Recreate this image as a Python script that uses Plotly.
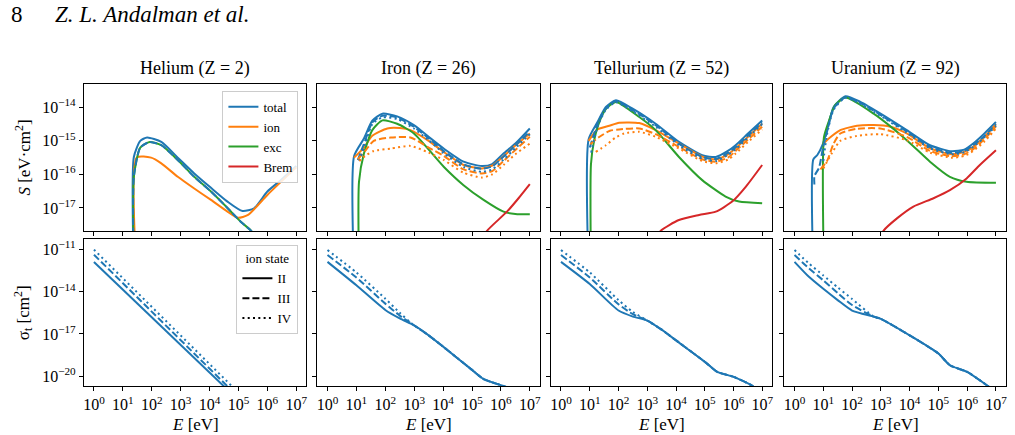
import plotly.graph_objects as go

BLUE = '#1f77b4'
ORANGE = '#ff7f0e'
GREEN = '#2ca02c'
RED = '#d62728'
FONT = 'Liberation Serif'

TITLES = ['Helium (Z = 2)', 'Iron (Z = 26)', 'Tellurium (Z = 52)', 'Uranium (Z = 92)']
X_TICKS = [1, 10, 100, 1e3, 1e4, 1e5, 1e6, 1e7]
X_TICK_TEXT = ['10<sup>0</sup>', '10<sup>1</sup>', '10<sup>2</sup>', '10<sup>3</sup>',
               '10<sup>4</sup>', '10<sup>5</sup>', '10<sup>6</sup>', '10<sup>7</sup>']
S_TICKS = [1e-17, 1e-16, 1e-15, 1e-14]
S_TICK_TEXT = ['10<sup>\u221217</sup>', '10<sup>\u221216</sup>', '10<sup>\u221215</sup>', '10<sup>\u221214</sup>']
SIG_TICKS = [1e-20, 1e-17, 1e-14, 1e-11]
SIG_TICK_TEXT = ['10<sup>\u221220</sup>', '10<sup>\u221217</sup>', '10<sup>\u221214</sup>', '10<sup>\u221211</sup>']

# ---------------- Helium: stopping S [eV cm^2] ----------------
HE_E_TOT = [24, 24, 40, 69, 214, 794, 2950, 1.12e4, 4.17e4, 1.38e5, 3.47e5, 1e6, 2.95e6, 1e7]
HE_S_TOT = [1e-19, 3.31e-16, 1.0e-15, 1.26e-15, 9.3e-16, 3.16e-16, 1.07e-16, 3.98e-17, 1.55e-17,
            8.1e-18, 9.8e-18, 3.09e-17, 6.8e-17, 1.78e-16]
HE_E_ION = [30, 30, 95, 214, 794, 2950, 1.12e4, 4.17e4, 9.5e4, 2.14e5, 1e6, 1e7]
HE_S_ION = [1e-19, 3.16e-16, 3.16e-16, 2.14e-16, 8.5e-17, 3.8e-17, 1.74e-17, 7.8e-18, 5.1e-18,
            6.2e-18, 2.45e-17, 1.62e-16]
HE_E_EXC = [24, 24, 40, 85, 214, 794, 2950, 1.12e4, 4.17e4, 1.2e5, 2.75e5, 3.98e5]
HE_S_EXC = [1e-19, 8.5e-17, 6.3e-16, 9.3e-16, 7.4e-16, 2.69e-16, 8.5e-17, 3.09e-17, 1.0e-17,
            3.89e-18, 2.09e-18, 1.26e-18]
HE_E_TOT3 = [24, 24, 40, 85, 214, 794, 2950, 1.12e4, 4.17e4, 1.2e5, 2.75e5, 3.98e5]
HE_S_TOT3 = [1e-19, 8.5e-17, 6.3e-16, 9.3e-16, 7.4e-16, 2.69e-16, 8.5e-17, 3.09e-17, 1.0e-17,
             3.89e-18, 2.09e-18, 1.26e-18]

# ---------------- Iron ----------------
FE_E_TOT = [8.3, 8.3, 18.2, 35.5, 79.4, 257, 977, 3160, 1.05e4, 5.1e4, 2.19e5, 5e5, 1.23e6, 3.16e6, 1e7]
FE_S_TOT = [1e-19, 3.47e-16, 1.17e-15, 3.98e-15, 6.46e-15, 5.37e-15, 2.95e-15, 1.32e-15, 5.9e-16,
            2.4e-16, 1.78e-16, 2.04e-16, 4.17e-16, 8.3e-16, 2.34e-15]
FE_E_TOT3 = [11.2, 20, 35.5, 79.4, 257, 977, 3160, 1.05e4, 5.1e4, 2.19e5, 5e5, 1.23e6, 3.16e6, 1e7]
FE_S_TOT3 = [2.69e-16, 1.0e-15, 3.55e-15, 5.62e-15, 5.01e-15, 2.63e-15, 1.2e-15, 5.01e-16,
             2.0e-16, 1.48e-16, 1.74e-16, 3.39e-16, 7.24e-16, 1.91e-15]
FE_E_TOT4 = [12.6, 20, 35.5, 79.4, 257, 977, 3160, 1.05e4, 5.1e4, 2.19e5, 5e5, 1.23e6, 3.16e6, 1e7]
FE_S_TOT4 = [2.51e-16, 7.94e-16, 3.16e-15, 5.01e-15, 4.47e-15, 2.34e-15, 1.05e-15, 4.27e-16,
             1.66e-16, 1.2e-16, 1.41e-16, 2.75e-16, 6.03e-16, 1.58e-15]
FE_E_ION = [8.3, 18.2, 35.5, 117, 316, 741, 3160, 1.05e4, 5.1e4, 2.19e5, 5e5, 1.23e6, 3.16e6, 1e7]
FE_S_ION = [3.16e-16, 6.31e-16, 1.41e-15, 2.34e-15, 2.4e-15, 2.09e-15, 1.0e-15, 4.68e-16,
            1.91e-16, 1.51e-16, 1.82e-16, 3.47e-16, 7.24e-16, 1.66e-15]
FE_E_ION3 = [11.2, 20, 39.8, 155, 741, 3160, 1.05e4, 5.1e4, 2.19e5, 5e5, 1.23e6, 3.16e6, 1e7]
FE_S_ION3 = [2.82e-16, 5.01e-16, 1.0e-15, 1.26e-15, 1.26e-15, 6.31e-16, 3.55e-16, 1.41e-16,
             1.07e-16, 1.26e-16, 2.51e-16, 5.37e-16, 1.32e-15]
FE_E_ION4 = [12.6, 20, 39.8, 155, 741, 3160, 1.05e4, 5.1e4, 2.19e5, 5e5, 1.23e6, 3.16e6, 1e7]
FE_S_ION4 = [2.51e-16, 3.55e-16, 5.01e-16, 5.89e-16, 7.08e-16, 4.47e-16, 2.69e-16, 1.12e-16,
             8.1e-17, 1.0e-16, 1.91e-16, 3.98e-16, 8.3e-16]
FE_E_EXC = [12.3, 12.3, 18.2, 35.5, 79.4, 257, 977, 1.05e4, 5.1e4, 2.51e5, 1.23e6, 3.16e6, 1e7]
FE_S_EXC = [1e-19, 6.03e-17, 4.17e-16, 2.09e-15, 4.07e-15, 3.24e-15, 1.66e-15, 1.7e-16, 4.79e-17,
            1.74e-17, 7.76e-18, 6.61e-18, 6.46e-18]
FE_E_BREM = [2.0e5, 3.31e5, 1.62e6, 4.07e6, 1e7]
FE_S_BREM = [1e-18, 2.09e-18, 7.76e-18, 1.95e-17, 5.13e-17]

# ---------------- Tellurium ----------------
TE_E_TOT = [9.1, 9.1, 18.6, 36.3, 81.3, 309, 1950, 1.26e4, 8.1e4, 2.4e5, 6.31e5, 1.17e6, 3.16e6, 9.8e6]
TE_S_TOT = [1e-19, 1.1e-15, 3.63e-15, 1.02e-14, 1.62e-14, 9.1e-15, 3.24e-15, 9.3e-16, 3.72e-16,
            3.31e-16, 5.01e-16, 7.41e-16, 1.66e-15, 4.07e-15]
TE_E_TOT3 = [10, 18.6, 36.3, 81.3, 309, 1950, 1.26e4, 8.1e4, 2.4e5, 6.31e5, 1.17e6, 3.16e6, 9.8e6]
TE_S_TOT3 = [6.31e-16, 3.16e-15, 9.3e-15, 1.51e-14, 8.3e-15, 2.95e-15, 8.3e-16, 3.31e-16,
             2.88e-16, 4.37e-16, 6.46e-16, 1.45e-15, 3.55e-15]
TE_E_TOT4 = [11.2, 18.6, 36.3, 81.3, 309, 1950, 1.26e4, 8.1e4, 2.4e5, 6.31e5, 1.17e6, 3.16e6, 9.8e6]
TE_S_TOT4 = [4.47e-16, 2.63e-15, 8.5e-15, 1.41e-14, 7.59e-15, 2.63e-15, 7.41e-16, 2.95e-16,
             2.51e-16, 3.8e-16, 5.62e-16, 1.26e-15, 3.16e-15]
TE_E_ION = [9.1, 18.6, 47.9, 105, 525, 1950, 1.26e4, 8.1e4, 2.4e5, 6.31e5, 1.17e6, 3.16e6, 9.8e6]
TE_S_ION = [1.0e-15, 2.19e-15, 2.82e-15, 3.47e-15, 3.39e-15, 2.09e-15, 8.3e-16, 3.39e-16,
            2.82e-16, 3.98e-16, 6.03e-16, 1.32e-15, 3.24e-15]
TE_E_ION3 = [10.5, 20, 50.1, 105, 525, 1950, 1.26e4, 8.1e4, 2.4e5, 6.31e5, 1.17e6, 3.16e6, 9.8e6]
TE_S_ION3 = [7.94e-16, 1.26e-15, 2.0e-15, 2.19e-15, 2.34e-15, 1.58e-15, 6.61e-16, 2.82e-16,
             2.4e-16, 3.16e-16, 5.01e-16, 1.1e-15, 2.63e-15]
TE_E_ION4 = [16.2, 36.3, 79.4, 158, 525, 1950, 1.26e4, 8.1e4, 2.4e5, 6.31e5, 1.17e6, 3.16e6, 9.8e6]
TE_S_ION4 = [4.68e-16, 7.41e-16, 1.26e-15, 1.66e-15, 1.86e-15, 1.32e-15, 5.89e-16, 2.51e-16,
             2.14e-16, 2.75e-16, 4.17e-16, 9.3e-16, 2.19e-15]
TE_E_EXC = [11, 11, 14.1, 22.4, 36.3, 81.3, 525, 1950, 1.26e4, 8.1e4, 5.25e5, 1.55e6, 9.8e6]
TE_S_EXC = [1e-19, 2.0e-16, 1.0e-15, 3.98e-15, 8.9e-15, 1.45e-14, 5.13e-15, 2.09e-15, 3.31e-16,
            6.76e-17, 2.19e-17, 1.55e-17, 1.38e-17]
TE_E_BREM = [2000, 2950, 1.26e4, 6.31e4, 2.4e5, 8.9e5, 2.63e6, 9.8e6]
TE_S_BREM = [1e-18, 2.09e-18, 4.37e-18, 6.17e-18, 7.76e-18, 1.55e-17, 4.27e-17, 1.91e-16]

# ---------------- Uranium ----------------
U_E_TOT = [4.5, 4.5, 6.2, 9.8, 13.5, 22.9, 58.9, 195, 1230, 7940, 5.1e4, 2.88e5, 7.94e5, 1.62e6, 3.98e6, 1e7]
U_S_TOT = [1e-19, 2.82e-16, 3.8e-16, 8.3e-16, 2.09e-15, 1.02e-14, 2.14e-14, 1.45e-14, 5.75e-15,
           2.09e-15, 7.41e-16, 4.9e-16, 5.5e-16, 8.3e-16, 1.66e-15, 3.63e-15]
U_E_TOT3 = [4.9, 4.9, 7.1, 9.8, 13.5, 22.9, 58.9, 195, 1230, 7940, 5.1e4, 2.88e5, 7.94e5, 1.62e6, 3.98e6, 1e7]
U_S_TOT3 = [5.0e-17, 8.9e-17, 1.58e-16, 6.31e-16, 1.91e-15, 9.3e-15, 2.0e-14, 1.35e-14, 5.25e-15,
            1.91e-15, 6.61e-16, 4.37e-16, 5.01e-16, 7.41e-16, 1.38e-15, 3.16e-15]
U_E_TOT4 = [10, 13.5, 22.9, 58.9, 195, 1230, 7940, 5.1e4, 2.88e5, 7.94e5, 1.62e6, 3.98e6, 1e7]
U_S_TOT4 = [2.51e-16, 1.58e-15, 8.5e-15, 1.91e-14, 1.26e-14, 4.9e-15, 1.74e-15, 6.03e-16,
            3.98e-16, 4.57e-16, 6.61e-16, 1.26e-15, 2.82e-15]
U_E_ION = [9.8, 15.5, 38.9, 148, 562, 2140, 7940, 5.1e4, 2.88e5, 7.94e5, 1.62e6, 3.98e6, 1e7]
U_S_ION = [7.94e-16, 1.17e-15, 2.09e-15, 2.82e-15, 2.95e-15, 2.63e-15, 1.66e-15, 6.03e-16,
           3.98e-16, 4.68e-16, 6.61e-16, 1.32e-15, 3.09e-15]
U_E_ION3 = [7.94, 13.5, 22.9, 38.9, 148, 955, 7940, 5.1e4, 2.88e5, 7.94e5, 1.62e6, 3.98e6, 1e7]
U_S_ION3 = [1.41e-16, 2.51e-16, 8.3e-16, 1.66e-15, 2.29e-15, 2.34e-15, 1.32e-15, 5.01e-16,
            3.47e-16, 3.98e-16, 5.62e-16, 1.12e-15, 2.69e-15]
U_E_ION4 = [10, 22.9, 38.9, 148, 955, 7940, 5.1e4, 2.88e5, 7.94e5, 1.62e6, 3.98e6, 1e7]
U_S_ION4 = [1.51e-16, 5.25e-16, 1.0e-15, 1.41e-15, 1.58e-15, 1.05e-15, 4.47e-16, 3.16e-16,
            3.55e-16, 5.01e-16, 9.55e-16, 2.34e-15]
U_E_EXC = [10.5, 10.5, 15.8, 25.1, 58.9, 562, 7940, 5.1e4, 2.51e5, 9.55e5, 1e7]
U_S_EXC = [1e-19, 1.26e-15, 3.98e-15, 1.12e-14, 1.95e-14, 6.46e-15, 1.05e-15, 2.4e-16, 8.5e-17,
           6.03e-17, 5.62e-17]
U_E_BREM = [794, 1230, 3630, 1.35e4, 6.76e4, 2.51e5, 9.55e5, 2.75e6, 1e7]
U_S_BREM = [1e-18, 2.09e-18, 4.9e-18, 1.1e-17, 1.95e-17, 3.39e-17, 7.59e-17, 1.91e-16, 5.25e-16]

# ---------------- cross sections sigma_t [cm^2] ----------------
HE_E_SIG = [1, 1e5]
HE_SIG_II = [1.26e-12, 2.0e-22]
HE_SIG_III = [4.17e-12, 3.3e-22]
HE_SIG_IV = [9.5e-12, 6.8e-22]

FE_E_SIG2 = [1, 10, 100, 316, 1000, 3160, 1e4, 1e5, 2.51e5, 1.26e6, 2e6]
FE_SIG_II = [1.29e-12, 2.82e-14, 5.01e-16, 1.26e-16, 3.98e-17, 7.94e-18, 1.26e-18, 2.82e-20,
             6.31e-21, 2.0e-21, 1.41e-21]
FE_E_SIG3 = [1, 10, 100, 316, 708, 1000, 3160, 1e4, 1e5, 2.51e5, 1.26e6, 2e6]
FE_SIG_III = [3.98e-12, 1.0e-13, 1.41e-15, 2.0e-16, 6.31e-17, 3.98e-17, 7.94e-18, 1.26e-18,
              2.82e-20, 6.31e-21, 2.0e-21, 1.41e-21]
FE_SIG_IV = [8.9e-12, 2.29e-13, 3.16e-15, 3.16e-16, 7.08e-17, 3.98e-17, 7.94e-18, 1.26e-18,
             2.82e-20, 6.31e-21, 2.0e-21, 1.41e-21]

TE_E_SIG = [1, 10, 100, 316, 1000, 3160, 1e4, 1e5, 2.69e5, 1e6, 3.98e6, 6.31e6]
TE_SIG_II = [1.29e-12, 3.47e-14, 4.57e-16, 1.7e-16, 8.9e-17, 2.0e-17, 3.47e-18, 1.05e-19,
             2.04e-20, 9.1e-21, 2.4e-21, 1.26e-21]
TE_SIG_III = [3.98e-12, 1.0e-13, 1.26e-15, 2.51e-16, 8.9e-17, 2.0e-17, 3.47e-18, 1.05e-19,
              2.04e-20, 9.1e-21, 2.4e-21, 1.26e-21]
TE_SIG_IV = [8.9e-12, 2.29e-13, 2.51e-15, 3.55e-16, 8.9e-17, 2.0e-17, 3.47e-18, 1.05e-19,
             2.04e-20, 9.1e-21, 2.4e-21, 1.26e-21]

U_E_SIG = [1, 3.16, 10, 31.6, 100, 562, 1000, 1e4, 1e5, 2.51e5, 1e6, 4.68e6, 7.08e6]
U_SIG_II = [1.29e-12, 1.12e-13, 1.58e-14, 2.51e-15, 4.57e-16, 1.7e-16, 1.17e-16, 7.94e-18,
            4.07e-19, 6.03e-20, 2.04e-20, 2.4e-21, 1.26e-21]
U_SIG_III = [3.98e-12, 4.47e-13, 6.31e-14, 7.94e-15, 1.12e-15, 1.7e-16, 1.17e-16, 7.94e-18,
             4.07e-19, 6.03e-20, 2.04e-20, 2.4e-21, 1.26e-21]
U_SIG_IV = [8.9e-12, 1.0e-12, 1.41e-13, 2.0e-14, 3.02e-15, 1.7e-16, 1.17e-16, 7.94e-18,
            4.07e-19, 6.03e-20, 2.04e-20, 2.4e-21, 1.26e-21]

SOLID = 'solid'
DASH = '7px,3px'
DOT = '2px,3.3px'
LW = 2

TOP_CURVES = [
    [(HE_E_TOT, HE_S_TOT, BLUE, SOLID), (HE_E_ION, HE_S_ION, ORANGE, SOLID),
     (HE_E_EXC, HE_S_EXC, GREEN, SOLID), (HE_E_TOT3, HE_S_TOT3, BLUE, DASH)],
    [(FE_E_TOT, FE_S_TOT, BLUE, SOLID), (FE_E_ION, FE_S_ION, ORANGE, SOLID),
     (FE_E_EXC, FE_S_EXC, GREEN, SOLID), (FE_E_BREM, FE_S_BREM, RED, SOLID),
     (FE_E_TOT3, FE_S_TOT3, BLUE, DASH), (FE_E_ION3, FE_S_ION3, ORANGE, DASH),
     (FE_E_TOT4, FE_S_TOT4, BLUE, DOT), (FE_E_ION4, FE_S_ION4, ORANGE, DOT)],
    [(TE_E_TOT, TE_S_TOT, BLUE, SOLID), (TE_E_ION, TE_S_ION, ORANGE, SOLID),
     (TE_E_EXC, TE_S_EXC, GREEN, SOLID), (TE_E_BREM, TE_S_BREM, RED, SOLID),
     (TE_E_TOT3, TE_S_TOT3, BLUE, DASH), (TE_E_ION3, TE_S_ION3, ORANGE, DASH),
     (TE_E_TOT4, TE_S_TOT4, BLUE, DOT), (TE_E_ION4, TE_S_ION4, ORANGE, DOT)],
    [(U_E_TOT, U_S_TOT, BLUE, SOLID), (U_E_ION, U_S_ION, ORANGE, SOLID),
     (U_E_EXC, U_S_EXC, GREEN, SOLID), (U_E_BREM, U_S_BREM, RED, SOLID),
     (U_E_TOT3, U_S_TOT3, BLUE, DASH), (U_E_ION3, U_S_ION3, ORANGE, DASH),
     (U_E_TOT4, U_S_TOT4, BLUE, DOT), (U_E_ION4, U_S_ION4, ORANGE, DOT)],
]
BOTTOM_CURVES = [
    [(HE_E_SIG, HE_SIG_II, SOLID), (HE_E_SIG, HE_SIG_III, DASH), (HE_E_SIG, HE_SIG_IV, DOT)],
    [(FE_E_SIG2, FE_SIG_II, SOLID), (FE_E_SIG3, FE_SIG_III, DASH), (FE_E_SIG3, FE_SIG_IV, DOT)],
    [(TE_E_SIG, TE_SIG_II, SOLID), (TE_E_SIG, TE_SIG_III, DASH), (TE_E_SIG, TE_SIG_IV, DOT)],
    [(U_E_SIG, U_SIG_II, SOLID), (U_E_SIG, U_SIG_III, DASH), (U_E_SIG, U_SIG_IV, DOT)],
]

W, H = 1015, 435
X_PX = [(83, 306), (317, 540), (551, 773), (785, 1007)]
TOP_PX = (83, 231)
BOT_PX = (239, 386)


def ydom(px):
    return [(H - px[1]) / H, (H - px[0]) / H]


fig = go.Figure()

for i in range(4):
    xt, yt = 'x%d' % (i + 1), 'y%d' % (i + 1)
    xb, yb = 'x%d' % (i + 5), 'y%d' % (i + 5)
    for E, S, col, dash in TOP_CURVES[i]:
        fig.add_trace(go.Scatter(x=E, y=S, mode='lines', xaxis=xt, yaxis=yt, showlegend=False,
                                 line=dict(color=col, width=LW, dash=dash, shape='spline',
                                           smoothing=0.6),
                                 hoverinfo='skip'))
    for E, S, dash in BOTTOM_CURVES[i]:
        fig.add_trace(go.Scatter(x=E, y=S, mode='lines', xaxis=xb, yaxis=yb, showlegend=False,
                                 line=dict(color=BLUE, width=LW, dash=dash, shape='spline',
                                           smoothing=0.6),
                                 hoverinfo='skip'))

# legend entries
for name, col in [('total', BLUE), ('ion', ORANGE), ('exc', GREEN), ('Brem', RED)]:
    fig.add_trace(go.Scatter(x=[None], y=[None], mode='lines', name=name, xaxis='x1', yaxis='y1',
                             line=dict(color=col, width=LW), legend='legend'))
for name, dash in [('II', SOLID), ('III', DASH), ('IV', DOT)]:
    fig.add_trace(go.Scatter(x=[None], y=[None], mode='lines', name=name, xaxis='x5', yaxis='y5',
                             line=dict(color='black', width=LW, dash=dash), legend='legend2'))

axis_common = dict(showline=True, linecolor='black', linewidth=1, mirror=True, ticks='outside',
                   ticklen=4, tickwidth=1, tickcolor='black', showgrid=False, zeroline=False,
                   tickfont=dict(family=FONT, size=16, color='black'))

layout = dict(width=W, height=H, margin=dict(l=0, r=0, t=0, b=0), autosize=False,
              paper_bgcolor='white', plot_bgcolor='white',
              font=dict(family=FONT, color='black'))

for i in range(4):
    xd = [X_PX[i][0] / W, X_PX[i][1] / W]
    layout['xaxis%d' % (i + 1)] = dict(axis_common, type='log', range=[-0.35, 7.35], domain=xd,
                                        anchor='y%d' % (i + 1), tickmode='array', tickvals=X_TICKS,
                                        ticktext=X_TICK_TEXT, showticklabels=False)
    layout['yaxis%d' % (i + 1)] = dict(axis_common, type='log', range=[-17.7, -13.3],
                                        domain=ydom(TOP_PX), anchor='x%d' % (i + 1),
                                        tickmode='array', tickvals=S_TICKS, ticktext=S_TICK_TEXT,
                                        showticklabels=(i == 0))
    layout['xaxis%d' % (i + 5)] = dict(axis_common, type='log', range=[-0.35, 7.35], domain=xd,
                                        anchor='y%d' % (i + 5), tickmode='array', tickvals=X_TICKS,
                                        ticktext=X_TICK_TEXT, showticklabels=True)
    layout['yaxis%d' % (i + 5)] = dict(axis_common, type='log', range=[-20.7, -10.3],
                                        domain=ydom(BOT_PX), anchor='x%d' % (i + 5),
                                        tickmode='array', tickvals=SIG_TICKS, ticktext=SIG_TICK_TEXT,
                                        showticklabels=(i == 0))

layout['legend'] = dict(x=298 / W, y=(H - 90) / H, xanchor='right', yanchor='top',
                        bgcolor='rgba(255,255,255,0.85)', bordercolor='#cccccc', borderwidth=1,
                        font=dict(family=FONT, size=13, color='black'), tracegroupgap=0)
layout['legend2'] = dict(x=298 / W, y=(H - 245) / H, xanchor='right', yanchor='top',
                         bgcolor='rgba(255,255,255,0.85)', bordercolor='#cccccc', borderwidth=1,
                         font=dict(family=FONT, size=13, color='black'), tracegroupgap=0,
                         title=dict(text='ion state', side='top center',
                                    font=dict(family=FONT, size=13, color='black')))

ann = []
ann.append(dict(text='8', x=8 / W, y=(H - 14) / H, xref='paper', yref='paper', xanchor='left',
                yanchor='middle', showarrow=False, font=dict(family=FONT, size=23, color='black')))
ann.append(dict(text='<i>Z. L. Andalman et al.</i>', x=52 / W, y=(H - 14) / H, xref='paper',
                yref='paper', xanchor='left', yanchor='middle', showarrow=False,
                font=dict(family=FONT, size=23, color='black')))
for i in range(4):
    cx = (X_PX[i][0] + X_PX[i][1]) / 2 / W
    ann.append(dict(text=TITLES[i], x=cx, y=(H - 68) / H, xref='paper', yref='paper',
                    xanchor='center', yanchor='middle', showarrow=False,
                    font=dict(family=FONT, size=18, color='black')))
    ann.append(dict(text='<i>E</i> [eV]', x=cx, y=(H - 424) / H, xref='paper', yref='paper',
                    xanchor='center', yanchor='middle', showarrow=False,
                    font=dict(family=FONT, size=17, color='black')))
ann.append(dict(text='<i>S</i> [eV\u00b7cm<sup>2</sup>]', x=22 / W, y=(H - 157) / H, xref='paper',
                yref='paper', xanchor='center', yanchor='middle', textangle=-90, showarrow=False,
                font=dict(family=FONT, size=17, color='black')))
ann.append(dict(text='\u03c3<sub>t</sub> [cm<sup>2</sup>]', x=22 / W, y=(H - 312) / H, xref='paper',
                yref='paper', xanchor='center', yanchor='middle', textangle=-90, showarrow=False,
                font=dict(family=FONT, size=17, color='black')))
layout['annotations'] = ann

fig.update_layout(**layout)
fig.write_html('out.html')
